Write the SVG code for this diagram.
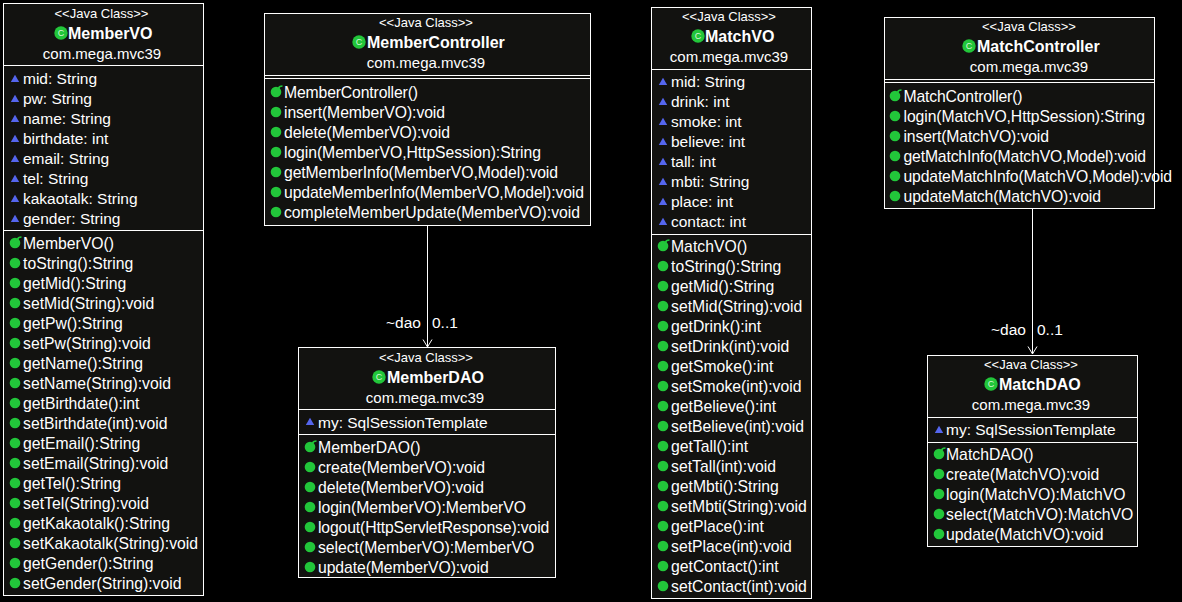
<svg xmlns="http://www.w3.org/2000/svg" width="1182" height="602" viewBox="0 0 1182 602">
<style>
text{font-family:"Liberation Sans",Arial,sans-serif;fill:#fff;font-size:15px}
use[href="#at"]+text{font-size:15.5px}
use[href="#me"]+text,use[href="#co"]+text{font-size:15.75px}
.box{fill:#121210;stroke:#fff;stroke-width:1}
.div{stroke:#fff;stroke-width:1;fill:none}
.st{font-size:13px;text-anchor:middle}
.ti{font-size:16px;font-weight:bold}
.pk{text-anchor:middle}
.cn{stroke:#fff;stroke-width:1;fill:none}
.lb{font-size:15.500px}
</style>
<defs>
<g id="at"><path d="M-4.200 3H4.200L0-4.300Z" fill="#5566ee"/></g>
<g id="me"><circle r="5.300" fill="#22c63a"/></g>
<g id="co"><circle r="5.300" fill="#22c63a"/><path d="M2.500-3.500Q3-6 6.500-6" stroke="#22c63a" stroke-width="1.600" fill="none"/></g>
<g id="cl"><circle r="6.700" fill="#22c63a"/><text x="0" y="3" text-anchor="middle" style="font-size:9px;fill:#d8f5d8">C</text></g>
</defs>
<rect width="1182" height="602" fill="#000"/>
<g id="connectors">
<path class="cn" d="M427.500 225.500V347M423 339.500L427.500 347L432 339.500"/>
<path class="cn" d="M1032.500 208.500V354M1028 346.500L1032.500 354L1037 346.500"/>
<text class="lb" x="386" y="328">~dao</text><text class="lb" x="432" y="328">0..1</text>
<text class="lb" x="991" y="335">~dao</text><text class="lb" x="1037" y="335">0..1</text>
</g>
<g id="MemberVO">
<rect class="box" x="3.500" y="3.500" width="200" height="592"/>
<path class="div" d="M3.500 65.500H203.500M3.500 230.500H203.500"/>
<text class="st" x="101.500" y="18">&lt;&lt;Java Class&gt;&gt;</text>
<use href="#cl" x="61" y="33"/><text class="ti" x="68" y="39">MemberVO</text>
<text class="pk" x="102" y="59">com.mega.mvc39</text>
<use href="#at" x="15" y="79"/><text x="23" y="84">mid: String</text>
<use href="#at" x="15" y="99"/><text x="23" y="104">pw: String</text>
<use href="#at" x="15" y="119"/><text x="23" y="124">name: String</text>
<use href="#at" x="15" y="139"/><text x="23" y="144">birthdate: int</text>
<use href="#at" x="15" y="159"/><text x="23" y="164">email: String</text>
<use href="#at" x="15" y="179"/><text x="23" y="184">tel: String</text>
<use href="#at" x="15" y="199"/><text x="23" y="204">kakaotalk: String</text>
<use href="#at" x="15" y="219"/><text x="23" y="224">gender: String</text>
<use href="#co" x="15" y="243"/><text x="23" y="249">MemberVO()</text>
<use href="#me" x="15" y="263"/><text x="23" y="269">toString():String</text>
<use href="#me" x="15" y="283"/><text x="23" y="289">getMid():String</text>
<use href="#me" x="15" y="303"/><text x="23" y="309">setMid(String):void</text>
<use href="#me" x="15" y="323"/><text x="23" y="329">getPw():String</text>
<use href="#me" x="15" y="343"/><text x="23" y="349">setPw(String):void</text>
<use href="#me" x="15" y="363"/><text x="23" y="369">getName():String</text>
<use href="#me" x="15" y="383"/><text x="23" y="389">setName(String):void</text>
<use href="#me" x="15" y="403"/><text x="23" y="409">getBirthdate():int</text>
<use href="#me" x="15" y="423"/><text x="23" y="429">setBirthdate(int):void</text>
<use href="#me" x="15" y="443"/><text x="23" y="449">getEmail():String</text>
<use href="#me" x="15" y="463"/><text x="23" y="469">setEmail(String):void</text>
<use href="#me" x="15" y="483"/><text x="23" y="489">getTel():String</text>
<use href="#me" x="15" y="503"/><text x="23" y="509">setTel(String):void</text>
<use href="#me" x="15" y="523"/><text x="23" y="529">getKakaotalk():String</text>
<use href="#me" x="15" y="543"/><text x="23" y="549">setKakaotalk(String):void</text>
<use href="#me" x="15" y="563"/><text x="23" y="569">getGender():String</text>
<use href="#me" x="15" y="583"/><text x="23" y="589">setGender(String):void</text>
</g>
<g id="MemberController">
<rect class="box" x="264.500" y="13.500" width="326" height="212"/>
<path class="div" d="M264.500 75.500H590.500M264.500 78.500H590.500"/>
<text class="st" x="426" y="27">&lt;&lt;Java Class&gt;&gt;</text>
<use href="#cl" x="359" y="42"/><text class="ti" x="367" y="48">MemberController</text>
<text class="pk" x="426" y="68">com.mega.mvc39</text>
<use href="#co" x="276" y="92"/><text x="284" y="98" textLength="134">MemberController()</text>
<use href="#me" x="276" y="112"/><text x="284" y="118" textLength="161">insert(MemberVO):void</text>
<use href="#me" x="276" y="132"/><text x="284" y="138" textLength="166">delete(MemberVO):void</text>
<use href="#me" x="276" y="152"/><text x="284" y="158" textLength="257">login(MemberVO,HttpSession):String</text>
<use href="#me" x="276" y="172"/><text x="284" y="178" textLength="274">getMemberInfo(MemberVO,Model):void</text>
<use href="#me" x="276" y="192"/><text x="284" y="198" textLength="300">updateMemberInfo(MemberVO,Model):void</text>
<use href="#me" x="276" y="212"/><text x="284" y="218" textLength="296">completeMemberUpdate(MemberVO):void</text>
</g>
<g id="MemberDAO">
<rect class="box" x="298.500" y="347.500" width="257" height="230"/>
<path class="div" d="M298.500 409.500H555.500M298.500 434.500H555.500"/>
<text class="st" x="426" y="362">&lt;&lt;Java Class&gt;&gt;</text>
<use href="#cl" x="379" y="377"/><text class="ti" x="387" y="383">MemberDAO</text>
<text class="pk" x="425" y="403">com.mega.mvc39</text>
<use href="#at" x="310" y="422"/><text x="318" y="428">my: SqlSessionTemplate</text>
<use href="#co" x="310" y="447"/><text x="318" y="453" textLength="102.500">MemberDAO()</text>
<use href="#me" x="310" y="467"/><text x="318" y="473" textLength="167">create(MemberVO):void</text>
<use href="#me" x="310" y="487"/><text x="318" y="493" textLength="166">delete(MemberVO):void</text>
<use href="#me" x="310" y="507"/><text x="318" y="513" textLength="208">login(MemberVO):MemberVO</text>
<use href="#me" x="310" y="527"/><text x="318" y="533" textLength="231.300">logout(HttpServletResponse):void</text>
<use href="#me" x="310" y="547"/><text x="318" y="553" textLength="216.300">select(MemberVO):MemberVO</text>
<use href="#me" x="310" y="567"/><text x="318" y="573" textLength="170.700">update(MemberVO):void</text>
</g>
<g id="MatchVO">
<rect class="box" x="651.500" y="7.500" width="160" height="591"/>
<path class="div" d="M651.500 69.500H811.500M651.500 234.500H811.500"/>
<text class="st" x="729" y="21">&lt;&lt;Java Class&gt;&gt;</text>
<use href="#cl" x="698" y="36"/><text class="ti" x="705" y="42">MatchVO</text>
<text class="pk" x="729" y="62">com.mega.mvc39</text>
<use href="#at" x="663" y="82"/><text x="671" y="87">mid: String</text>
<use href="#at" x="663" y="102"/><text x="671" y="107">drink: int</text>
<use href="#at" x="663" y="122"/><text x="671" y="127">smoke: int</text>
<use href="#at" x="663" y="142"/><text x="671" y="147">believe: int</text>
<use href="#at" x="663" y="162"/><text x="671" y="167">tall: int</text>
<use href="#at" x="663" y="182"/><text x="671" y="187">mbti: String</text>
<use href="#at" x="663" y="202"/><text x="671" y="207">place: int</text>
<use href="#at" x="663" y="222"/><text x="671" y="227">contact: int</text>
<use href="#co" x="663" y="246"/><text x="671" y="252">MatchVO()</text>
<use href="#me" x="663" y="266"/><text x="671" y="272">toString():String</text>
<use href="#me" x="663" y="286"/><text x="671" y="292">getMid():String</text>
<use href="#me" x="663" y="306"/><text x="671" y="312">setMid(String):void</text>
<use href="#me" x="663" y="326"/><text x="671" y="332">getDrink():int</text>
<use href="#me" x="663" y="346"/><text x="671" y="352">setDrink(int):void</text>
<use href="#me" x="663" y="366"/><text x="671" y="372">getSmoke():int</text>
<use href="#me" x="663" y="386"/><text x="671" y="392">setSmoke(int):void</text>
<use href="#me" x="663" y="406"/><text x="671" y="412">getBelieve():int</text>
<use href="#me" x="663" y="426"/><text x="671" y="432">setBelieve(int):void</text>
<use href="#me" x="663" y="446"/><text x="671" y="452">getTall():int</text>
<use href="#me" x="663" y="466"/><text x="671" y="472">setTall(int):void</text>
<use href="#me" x="663" y="486"/><text x="671" y="492">getMbti():String</text>
<use href="#me" x="663" y="506"/><text x="671" y="512">setMbti(String):void</text>
<use href="#me" x="663" y="526"/><text x="671" y="532">getPlace():int</text>
<use href="#me" x="663" y="546"/><text x="671" y="552">setPlace(int):void</text>
<use href="#me" x="663" y="566"/><text x="671" y="572">getContact():int</text>
<use href="#me" x="663" y="586"/><text x="671" y="592">setContact(int):void</text>
</g>
<g id="MatchController">
<rect class="box" x="884.500" y="17.500" width="270" height="191"/>
<path class="div" d="M884.500 79.500H1154.500M884.500 82.500H1154.500"/>
<text class="st" x="1029" y="31">&lt;&lt;Java Class&gt;&gt;</text>
<use href="#cl" x="969" y="46"/><text class="ti" x="977" y="52">MatchController</text>
<text class="pk" x="1029" y="72">com.mega.mvc39</text>
<use href="#co" x="895" y="96"/><text x="903.500" y="102" textLength="119">MatchController()</text>
<use href="#me" x="895" y="116"/><text x="903.500" y="122" textLength="241.500">login(MatchVO,HttpSession):String</text>
<use href="#me" x="895" y="136"/><text x="903.500" y="142" textLength="145.500">insert(MatchVO):void</text>
<use href="#me" x="895" y="156"/><text x="903.500" y="162" textLength="242.500">getMatchInfo(MatchVO,Model):void</text>
<use href="#me" x="895" y="176"/><text x="903.500" y="182" textLength="268.500">updateMatchInfo(MatchVO,Model):void</text>
<use href="#me" x="895" y="196"/><text x="903.500" y="202" textLength="197.500">updateMatch(MatchVO):void</text>
</g>
<g id="MatchDAO">
<rect class="box" x="927.500" y="355.500" width="210" height="191"/>
<path class="div" d="M927.500 417.500H1137.500M927.500 442.500H1137.500"/>
<text class="st" x="1031" y="369">&lt;&lt;Java Class&gt;&gt;</text>
<use href="#cl" x="991" y="384"/><text class="ti" x="999" y="390">MatchDAO</text>
<text class="pk" x="1031" y="410">com.mega.mvc39</text>
<use href="#at" x="939" y="430"/><text x="946" y="435">my: SqlSessionTemplate</text>
<use href="#co" x="939" y="454"/><text x="946" y="460">MatchDAO()</text>
<use href="#me" x="939" y="474"/><text x="946" y="480">create(MatchVO):void</text>
<use href="#me" x="939" y="494"/><text x="946" y="500">login(MatchVO):MatchVO</text>
<use href="#me" x="939" y="514"/><text x="946" y="520">select(MatchVO):MatchVO</text>
<use href="#me" x="939" y="534"/><text x="946" y="540">update(MatchVO):void</text>
</g>
</svg>
